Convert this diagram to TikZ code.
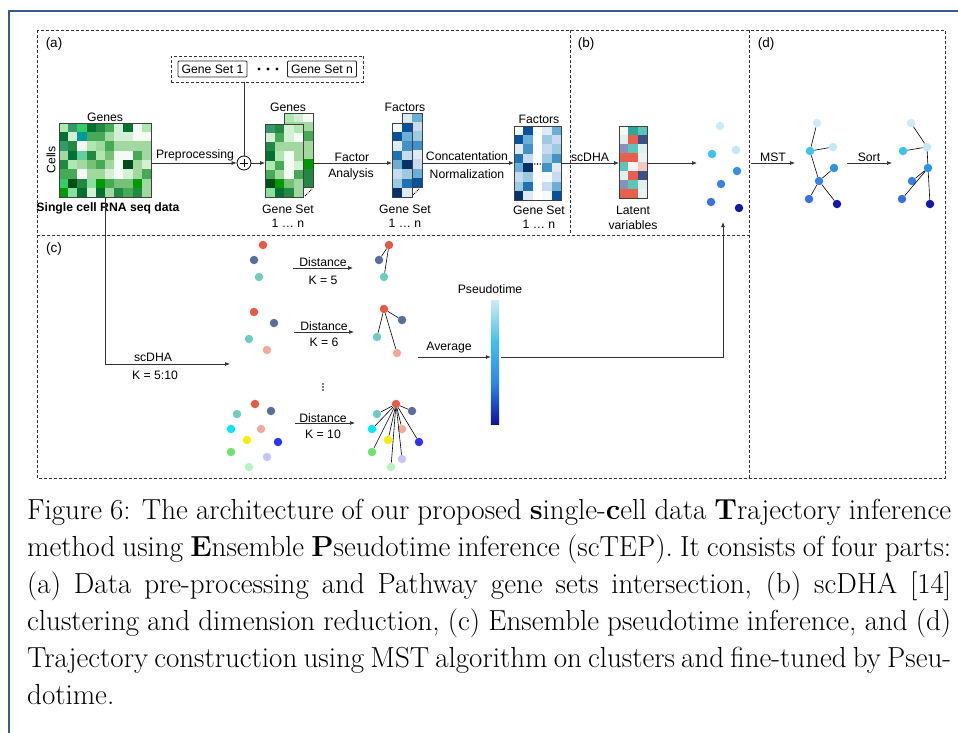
\documentclass[tikz,border=0pt]{standalone}
\usepackage{fontspec}
\setsansfont{Liberation Sans}
\usepackage{tikz}
\usetikzlibrary{arrows.meta,positioning,calc,fit}

% greens
\definecolor{gW}{HTML}{F4FBF4}
\definecolor{gP}{HTML}{D4F0D4}
\definecolor{gL}{HTML}{B0E6B0}
\definecolor{gA}{HTML}{A0D8A0}
\definecolor{gM}{HTML}{77C077}
\definecolor{gN}{HTML}{88E0A0}
\definecolor{gT}{HTML}{44AA55}
\definecolor{gS}{HTML}{339966}
\definecolor{gB}{HTML}{33CC66}
\definecolor{gK}{HTML}{228844}
\definecolor{gD}{HTML}{007033}
\definecolor{gV}{HTML}{004D1A}
\definecolor{gG}{HTML}{009900}
\definecolor{gQ}{HTML}{009999}
\definecolor{gE}{HTML}{66CC99}
% blues
\definecolor{bW}{HTML}{F5FAFF}
\definecolor{bP}{HTML}{DEEBF7}
\definecolor{bL}{HTML}{C6DBEF}
\definecolor{bA}{HTML}{9ECAE1}
\definecolor{bM}{HTML}{6BAED6}
\definecolor{bN}{HTML}{4292C6}
\definecolor{bT}{HTML}{2171B5}
\definecolor{bD}{HTML}{08519C}
\definecolor{bV}{HTML}{08306B}
% latent
\definecolor{lW}{HTML}{FDF5F3}
\definecolor{lR}{HTML}{E8604C}
\definecolor{lT}{HTML}{2BA89A}
\definecolor{lC}{HTML}{5CC5B5}
\definecolor{lP}{HTML}{DFF1EE}
\definecolor{lN}{HTML}{3B4F88}
\definecolor{lS}{HTML}{8892B8}
\definecolor{lK}{HTML}{F5C8C0}
\definecolor{lE}{HTML}{E8F5F3}
% clusters
\definecolor{cLight}{HTML}{CDEBF7}
\definecolor{cCyan}{HTML}{3FC3EA}
\definecolor{cLightb}{HTML}{C3E8F6}
\definecolor{cBlueA}{HTML}{3290E8}
\definecolor{cBlueB}{HTML}{3A80E6}
\definecolor{cBlueC}{HTML}{3872E2}
\definecolor{cNavy}{HTML}{1518A3}
\definecolor{kRed}{HTML}{E65A46}
\definecolor{kSlate}{HTML}{5A6E9E}
\definecolor{kTeal}{HTML}{71CCBD}
\definecolor{kPink}{HTML}{F1A99B}
\definecolor{kCyan}{HTML}{00E7FF}
\definecolor{kYellow}{HTML}{F4F000}
\definecolor{kBlue}{HTML}{2E34F5}
\definecolor{kGreen}{HTML}{70E070}
\definecolor{kLav}{HTML}{C4C4FF}
\definecolor{kMint}{HTML}{B8F2C0}
% pseudotime bar
\definecolor{ptA}{HTML}{CBE9F6}
\definecolor{ptB}{HTML}{44BFE8}
\definecolor{ptC}{HTML}{2E86E6}
\definecolor{ptD}{HTML}{0E129C}
\definecolor{pageframe}{HTML}{3A5A8C}

% fill a grid of cells from a corner
\newcommand{\heatcells}[4]{%
  \foreach \cellrow [count=\ri] in {#4} {
    \foreach \cellcol [count=\ci] in \cellrow {
      \fill[\cellcol] ($(#1)+({(\ci-1)*#2},{(\ri-1)*#3})$) rectangle +(#2,#3);
    }
  }%
}

\begin{document}
\begin{tikzpicture}[x=1pt,y=-1pt, font=\sffamily\fontsize{12.2}{14}\selectfont,
  arr/.style={-{Latex[length=5pt,width=4pt]}, draw=black!80, line width=0.7pt},
  link/.style={draw=black!80, line width=0.7pt},
  panel/.style={draw=black!80, densely dashed, line width=0.7pt},
  matnode/.style={anchor=north west, inner sep=0pt, outer sep=0pt},
  matframe/.style={draw=black!75, line width=0.9pt},
  stackdots/.style={densely dotted, line width=0.9pt},
  setbox/.style={draw=black!85, line width=0.9pt, rounded corners=1pt, inner sep=1pt, minimum height=16, minimum width=69},
  dot/.style={circle, fill=#1, inner sep=0pt, minimum size=8.5},
  edge/.style={draw=black, line width=0.6pt},
  plab/.style={font=\sffamily\fontsize{13.5}{16}\selectfont}]
  \useasboundingbox (0,0) rectangle (958,733);
  \draw[pageframe, line width=1.2pt] (9,733) -- (9,11) -- (958,11);

  % Panels
  \draw[panel] (37,30) rectangle (945,478);
  \draw[panel] (570,30) -- (570,235);
  \draw[panel] (749,30) -- (749,478);
  \draw[panel] (37,235) -- (749,235);
  \node[plab] (pa) at (54,44) {(a)};
  \node[plab] (pb) at (586,44) {(b)};
  \node[plab] (pd) at (766,44) {(d)};
  \node[plab] (pc) at (54,249) {(c)};

  % Gene sets
  \node[setbox] (gs1) at (212.5,69) {Gene Set 1};
  \node[setbox] (gsn) at (322,69) {Gene Set n};
  \foreach \k in {259,268,277} \fill (\k,69) circle (1.7);
  \node[panel, fit=(gs1)(gsn), inner xsep=6.5, inner ysep=4.5] (gsbox) {};

  % Raw expression matrix
  \node[matnode, minimum width=92, minimum height=74] (raw) at (59,123) {};
  \heatcells{raw.north west}{9.2}{9.25}{
    {gL,gS,gB,gD,gK,gT,gP,gD,gW,gL},{gD,gP,gQ,gT,gT,gA,gP,gP,gW,gW},
    {gS,gK,gW,gL,gA,gT,gA,gA,gA,gA},{gA,gD,gE,gK,gL,gM,gW,gW,gT,gA},
    {gK,gL,gA,gM,gT,gA,gW,gV,gA,gP},{gT,gT,gW,gA,gA,gP,gW,gP,gA,gT},
    {gB,gV,gK,gN,gG,gT,gM,gM,gG,gA},{gG,gN,gD,gP,gD,gA,gK,gT,gK,gA}}
  \draw[matframe] (raw.north west) rectangle (raw.south east);
  \node (genes) at (105,117) {Genes};
  \node[rotate=90] (cells) at (51,160) {Cells};

  % Plus
  \node[circle, draw=black, line width=0.8pt, minimum size=14, inner sep=0pt] (plus) at (244,163) {};
  \draw[line width=0.8pt] ($(plus.center)+(-4,0)$) -- +(8,0) ($(plus.center)+(0,-4)$) -- +(0,8);

  % Gene set stack
  \node[matnode, minimum width=29, minimum height=74] (gsback) at (284,113) {};
  \heatcells{gsback.north west}{9.67}{9.25}{
    {gL,gP,gW},{gA,gA,gA},{gA,gA,gT},{gA,gA,gA},{gA,gA,gA},{gA,gA,gG},{gA,gA,gK},{gA,gA,gK}}
  \draw[matframe] (gsback.north west) rectangle (gsback.south east);
  \node[matnode, minimum width=38, minimum height=73] (gsfront) at (265,124) {};
  \heatcells{gsfront.north west}{9.5}{9.125}{
    {gS,gK,gP,gL},{gP,gT,gP,gW},{gK,gA,gA,gA},{gD,gL,gW,gA},
    {gL,gT,gW,gP},{gT,gA,gW,gT},{gV,gG,gM,gA},{gN,gD,gK,gA}}
  \draw[matframe] (gsfront.north west) rectangle (gsfront.south east);
  \draw[stackdots] ($(gsfront.south east)+(2,-1)$) -- +(7,-7);
  \node (gsgenes) at (288,107) {Genes};
  \node (gslbl) at (288,209) {Gene Set};
  \node (gsrange) at (288,223) {1 … n};

  % Factor stack
  \node[matnode, minimum width=20, minimum height=74] (faback) at (402,113) {};
  \heatcells{faback.north west}{10}{9.25}{
    {bP,bM},{bL,bL},{bA,bA},{bN,bN},{bP,bP},{bL,bL},{bM,bM},{bD,bD}}
  \draw[matframe] (faback.north west) rectangle (faback.south east);
  \node[matnode, minimum width=20, minimum height=74] (fafront) at (392,123) {};
  \heatcells{fafront.north west}{10}{9.25}{
    {bW,bD},{bD,bM},{bP,bN},{bT,bL},{bM,bV},{bL,bA},{bA,bT},{bV,bP}}
  \draw[matframe] (fafront.north west) rectangle (fafront.south east);
  \draw[stackdots] ($(fafront.south east)+(1,-2)$) -- +(6,-6);
  \node (fafac) at (405,107) {Factors};
  \node (falbl) at (405,209) {Gene Set};
  \node (farange) at (405,223) {1 … n};

  % Concatenated factors
  \node[matnode, minimum width=47, minimum height=74] (concat) at (514,126) {};
  \heatcells{concat.north west}{9.4}{9.25}{
    {bW,bD,white,bP,bM},{bD,bM,white,bA,bL},{bP,bN,white,bL,bA},{bT,bL,white,bA,bN},
    {bM,bV,white,bN,bP},{bL,bA,white,bW,bL},{bA,bT,white,bL,bM},{bV,bP,white,bW,bD}}
  \draw[matframe] (concat.north west) rectangle (concat.south east);
  \foreach \k in {-2.6,0,2.6} \fill ($(concat.center)+(\k,1)$) circle (0.8);
  \node (cofac) at (539,119) {Factors};
  \node (colbl) at (539,210) {Gene Set};
  \node (corange) at (539,224) {1 … n};

  % Latent variables
  \node[matnode, minimum width=28, minimum height=72] (latent) at (619,126) {};
  \heatcells{latent.north west}{9.33}{9}{
    {lW,lT,lC},{lP,lR,lN},{lS,lC,lP},{lR,lR,lE},{lC,lW,lK},{lP,lR,lN},{lS,lC,lP},{lR,lR,lE}}
  \draw[matframe] (latent.north west) rectangle (latent.south east);
  \node (latlbl) at (633,210) {Latent};
  \node (latlbl2) at (633,225) {variables};

  % Flow of (a) and (b)
  \coordinate (bout) at (697,163);
  \draw[link] (gsbox.south -| plus) -- (plus.north);
  \draw[arr] (raw.east |- plus) -- (plus.west);
  \draw[arr] (plus.east) -- (plus -| gsfront.west);
  \draw[arr] (plus -| gsback.east) -- (plus -| fafront.west);
  \draw[arr] (plus -| faback.east) -- (plus -| concat.west);
  \draw[arr] (plus -| concat.east) -- (plus -| latent.west);
  \draw[arr] (plus -| latent.east) -- (bout);
  \node (prelbl) at (195,155) {Preprocessing};
  \node (falbla) at (352,157) {Factor};
  \node (falblb) at (351,174) {Analysis};
  \node (conlbla) at (467,156) {Concatentation};
  \node (conlblb) at (467,174) {Normalization};
  \node (dhalbl) at (590,157) {scDHA};
  \node[font=\sffamily\bfseries\fontsize{12.2}{14}\selectfont] (rawlbl) at (108,208) {Single cell RNA seq data};

  % Clusters (b)
  \foreach \nm/\px/\py/\cl in {1/720/126/cLight, 2/712/154/cCyan, 3/736/150/cLightb, 4/737/171/cBlueA,
      5/721/184/cBlueB, 6/711/202/cBlueC, 7/739/208/cNavy}
    \node[dot=\cl] (b\nm) at (\px,\py) {};

  % MST (d)
  \foreach \nm/\px/\py/\cl in {1/817/123/cLight, 2/810/151/cCyan, 3/833/147/cLightb, 4/834/168/cBlueA,
      5/819/181/cBlueB, 6/809/199/cBlueC, 7/837/204/cNavy}
    \node[dot=\cl] (m\nm) at (\px,\py) {};
  \draw[edge] (m1) -- (m2) (m2) -- (m3) (m2) -- (m5) (m5) -- (m4) (m5) -- (m6) (m5) -- (m7);
  \foreach \nm/\px/\py/\cl in {1/911/123/cLight, 2/903/151/cCyan, 3/927/147/cLightb, 4/928/168/cBlueA,
      5/912/181/cBlueB, 6/902/199/cBlueC, 7/930/204/cNavy}
    \node[dot=\cl] (s\nm) at (\px,\py) {};
  \draw[edge] (s1) -- (s3) (s2) -- (s3) (s3) -- (s4) (s4) -- (s5) (s4) -- (s6) (s4) -- (s7);
  \coordinate (mstA) at (751,163);
  \coordinate (mstB) at (795,163);
  \coordinate (sortA) at (847,163);
  \coordinate (sortB) at (892,163);
  \draw[arr] (mstA) -- (mstB);
  \draw[arr] (sortA) -- (sortB);
  \node (mstlbl) at (773,157) {MST};
  \node (sortlbl) at (869,157) {Sort};

  % Ensemble (c)
  \coordinate (kin) at (230,364);
  \draw[arr] (raw.south) |- (kin);
  \node (kdha) at (153,357) {scDHA};
  \node (krange) at (155,375) {K = 5:10};

  % K = 5
  \node[dot=kRed] (p1r) at (263,245) {};
  \node[dot=kSlate] (p1s) at (254,260) {};
  \node[dot=kTeal] (p1t) at (259,277) {};
  \node[dot=kRed] (t1r) at (389,245) {};
  \node[dot=kSlate] (t1s) at (379,260) {};
  \node[dot=kTeal] (t1t) at (384,277) {};
  \draw[edge] (t1r) -- (t1s) (t1r) -- (t1t);
  \coordinate (dfiveA) at (293,268);
  \coordinate (dfiveB) at (353,268);
  \draw[arr] (dfiveA) -- (dfiveB);
  \node (dfive) at (323,262) {Distance};
  \node (kfive) at (323,280) {K = 5};

  % K = 6
  \node[dot=kRed] (p2r) at (254,312) {};
  \node[dot=kSlate] (p2s) at (274,323) {};
  \node[dot=kTeal] (p2t) at (249,339) {};
  \node[dot=kPink] (p2p) at (267,350) {};
  \node[dot=kRed] (t2r) at (384,309) {};
  \node[dot=kSlate] (t2s) at (402,320) {};
  \node[dot=kTeal] (t2t) at (377,337) {};
  \node[dot=kPink] (t2p) at (397,353) {};
  \draw[edge] (t2r) -- (t2s) (t2r) -- (t2t) (t2r) -- (t2p);
  \coordinate (dsixA) at (294,332);
  \coordinate (dsixB) at (354,332);
  \draw[arr] (dsixA) -- (dsixB);
  \node (dsix) at (324,326) {Distance};
  \node (ksix) at (324,342) {K = 6};

  % more K
  \foreach \k in {-3,0,3} \fill (323,387+\k) circle (0.9);

  % K = 10
  \foreach \nm/\px/\py/\cl in {r/255/404/kRed, s/271/411/kSlate, t/237/414/kTeal, c/231/429/kCyan,
      p/261/429/kPink, y/247/440/kYellow, b/278/442/kBlue, g/231/452/kGreen, l/267/457/kLav, m/249/467/kMint}
    \node[dot=\cl] (p3\nm) at (\px,\py) {};
  \foreach \nm/\px/\py/\cl in {r/396/404/kRed, s/412/411/kSlate, t/377/414/kTeal, c/372/429/kCyan,
      p/402/429/kPink, y/388/440/kYellow, b/419/442/kBlue, g/372/452/kGreen, l/402/459/kLav, m/391/467/kMint}
    \node[dot=\cl] (t3\nm) at (\px,\py) {};
  \foreach \nm in {s,t,c,p,y,b,g,l,m}
    \draw[edge] (t3r) -- (t3\nm);
  \coordinate (dtenA) at (295,423);
  \coordinate (dtenB) at (355,423);
  \draw[arr] (dtenA) -- (dtenB);
  \node (dten) at (323,418) {Distance};
  \node (kten) at (323,434) {K = 10};

  % Pseudotime
  \node[inner sep=0pt, minimum width=8, minimum height=123] (ptbar) at (495,362.5) {};
  \shade[top color=ptA, bottom color=ptB] (ptbar.north west) rectangle ($(ptbar.north east)+(0,41)$);
  \shade[top color=ptB, bottom color=ptC] ($(ptbar.north west)+(0,41)$) rectangle ($(ptbar.north east)+(0,82)$);
  \shade[top color=ptC, bottom color=ptD] ($(ptbar.north west)+(0,82)$) rectangle (ptbar.south east);
  \node (ptlbl) at (490,289) {Pseudotime};
  \coordinate (avgin) at (418,357);
  \coordinate (bin) at (723,222);
  \draw[arr] (avgin) -- (avgin -| ptbar.west);
  \draw[arr] ($(avgin -| ptbar.east)+(2,0)$) -| (bin);
  \node (avglbl) at (449,348) {Average};

  % Caption
  \node[anchor=base west, inner sep=0pt, font=\rmfamily\fontsize{29}{37}\selectfont] (caption) at (27,519) {\parbox[t]{924pt}{%
    \makebox[924pt][s]{Figure 6: The architecture of our proposed \textbf{s}ingle-\textbf{c}ell data \textbf{T}rajectory inference}\\
    \makebox[924pt][s]{method using \textbf{E}nsemble \textbf{P}seudotime inference (scTEP). It consists of four parts:}\\
    \makebox[924pt][s]{(a) Data pre-processing and Pathway gene sets intersection, (b) scDHA [14]}\\
    \makebox[924pt][s]{clustering and dimension reduction, (c) Ensemble pseudotime inference, and (d)}\\
    \makebox[924pt][s]{Trajectory construction using MST algorithm on clusters and fine-tuned by Pseu-}\\
    dotime.}};
\end{tikzpicture}
\end{document}
